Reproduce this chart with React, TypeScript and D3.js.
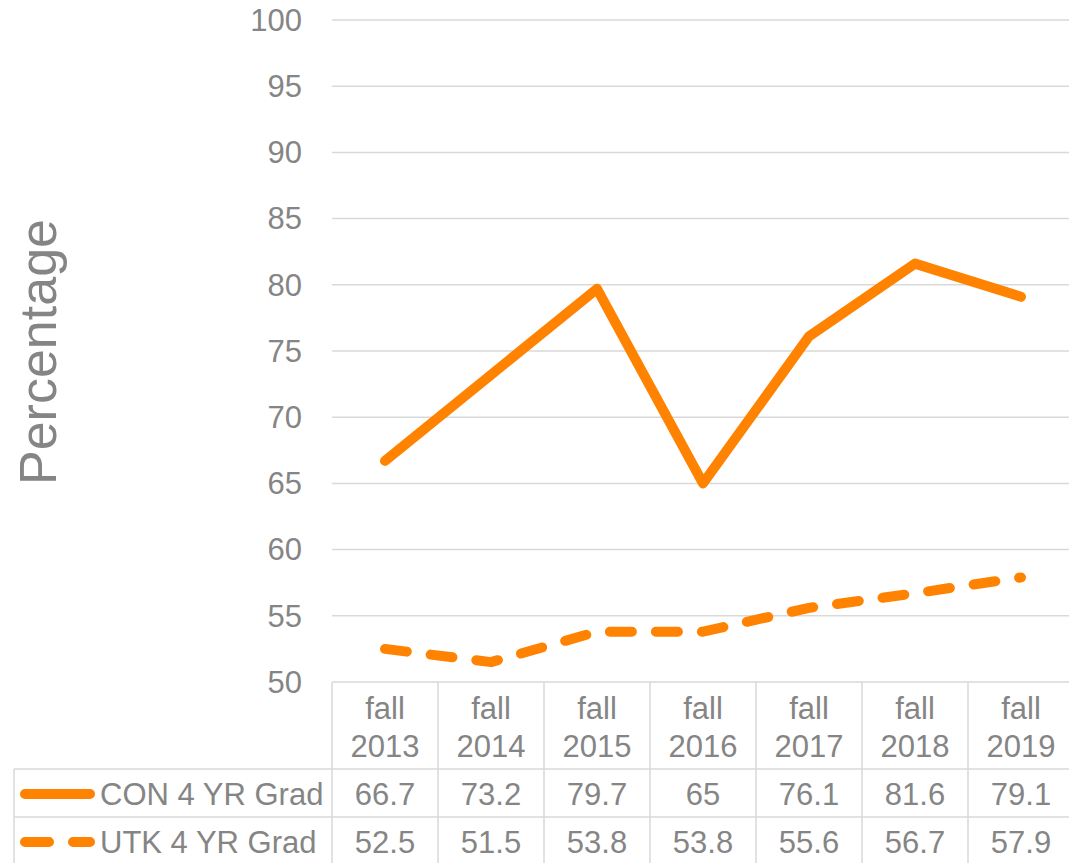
import React from "react";
import * as d3 from "d3";

const categories = ["fall 2013", "fall 2014", "fall 2015", "fall 2016", "fall 2017", "fall 2018", "fall 2019"];
const conValues = [66.7, 73.2, 79.7, 65, 76.1, 81.6, 79.1];
const utkValues = [52.5, 51.5, 53.8, 53.8, 55.6, 56.7, 57.9];
const conLabels = ["66.7", "73.2", "79.7", "65", "76.1", "81.6", "79.1"];
const utkLabels = ["52.5", "51.5", "53.8", "53.8", "55.6", "56.7", "57.9"];
const yTicks = [50, 55, 60, 65, 70, 75, 80, 85, 90, 95, 100];
const seriesNames = ["CON 4 YR Grad", "UTK 4 YR Grad"];

const W = 1069;
const H = 863;
const ORANGE = "#ff8300";
const GRAY = "#858585";
const GRID = "#d9d9d9";
const FONT = "'Liberation Sans', Arial, sans-serif";

export default function App() {
  const x = d3.scaleBand<string>().domain(categories).range([332, 1074]);
  const y = d3.scaleLinear().domain([50, 100]).range([682, 20]);
  const cx = (c: string) => (x(c) as number) + x.bandwidth() / 2;
  const line = d3
    .line<number>()
    .x((_, i) => cx(categories[i]))
    .y((v) => y(v));

  const rowTop = 769;
  const rowH = 48;
  const tableLeft = 14;
  const series = [
    { name: seriesNames[0], values: conValues, labels: conLabels, dash: undefined as string | undefined },
    { name: seriesNames[1], values: utkValues, labels: utkLabels, dash: "22 24" },
  ];

  return (
    <svg width={W} height={H} style={{ position: "absolute", left: 0, top: 0, background: "#fff" }} fontFamily={FONT}>
      {/* gridlines */}
      {yTicks.map((t) => (
        <line key={t} x1={332} x2={W} y1={y(t)} y2={y(t)} stroke={GRID} strokeWidth={1.5} />
      ))}
      {/* tick labels */}
      {yTicks.map((t) => (
        <text key={"l" + t} x={302} y={y(t)} dy="0.35em" textAnchor="end" fontSize={31} fill={GRAY}>
          {t}
        </text>
      ))}
      {/* axis title */}
      <text transform={`translate(56,352) rotate(-90)`} textAnchor="middle" fontSize={52} fill={GRAY}>
        Percentage
      </text>

      {/* table grid */}
      {categories.map((c) => (
        <line key={"v" + c} x1={x(c) as number} x2={x(c) as number} y1={682} y2={H + 5} stroke={GRID} strokeWidth={1.5} />
      ))}
      <line x1={tableLeft} x2={tableLeft} y1={rowTop} y2={H + 5} stroke={GRID} strokeWidth={1.5} />
      {[0, 1, 2].map((i) => (
        <line key={"h" + i} x1={tableLeft} x2={W} y1={rowTop + i * rowH} y2={rowTop + i * rowH} stroke={GRID} strokeWidth={1.5} />
      ))}

      {/* category labels */}
      {categories.map((c) => {
        const [a, b] = c.split(" ");
        return (
          <text key={"c" + c} x={cx(c)} textAnchor="middle" fontSize={31} fill={GRAY}>
            <tspan x={cx(c)} y={719}>{a}</tspan>
            <tspan x={cx(c)} y={757}>{b}</tspan>
          </text>
        );
      })}

      {/* rows */}
      {series.map((s, si) => {
        const cy = rowTop + si * rowH + rowH / 2 + 1;
        return (
          <g key={s.name}>
            <line x1={25} x2={90} y1={cy} y2={cy} stroke={ORANGE} strokeWidth={10} strokeLinecap="round" strokeDasharray={si === 1 ? "24 24" : undefined} />
            <text x={100} y={cy} dy="0.35em" fontSize={31} fill={GRAY}>
              {s.name}
            </text>
            {s.labels.map((lab, i) => (
              <text key={i} x={cx(categories[i])} y={cy} dy="0.35em" textAnchor="middle" fontSize={31} fill={GRAY}>
                {lab}
              </text>
            ))}
          </g>
        );
      })}

      {/* lines */}
      {series.map((s) => (
        <path
          key={"p" + s.name}
          d={line(s.values) || ""}
          fill="none"
          stroke={ORANGE}
          strokeWidth={10}
          strokeLinecap="round"
          strokeLinejoin="round"
          strokeDasharray={s.dash}
        />
      ))}
    </svg>
  );
}
